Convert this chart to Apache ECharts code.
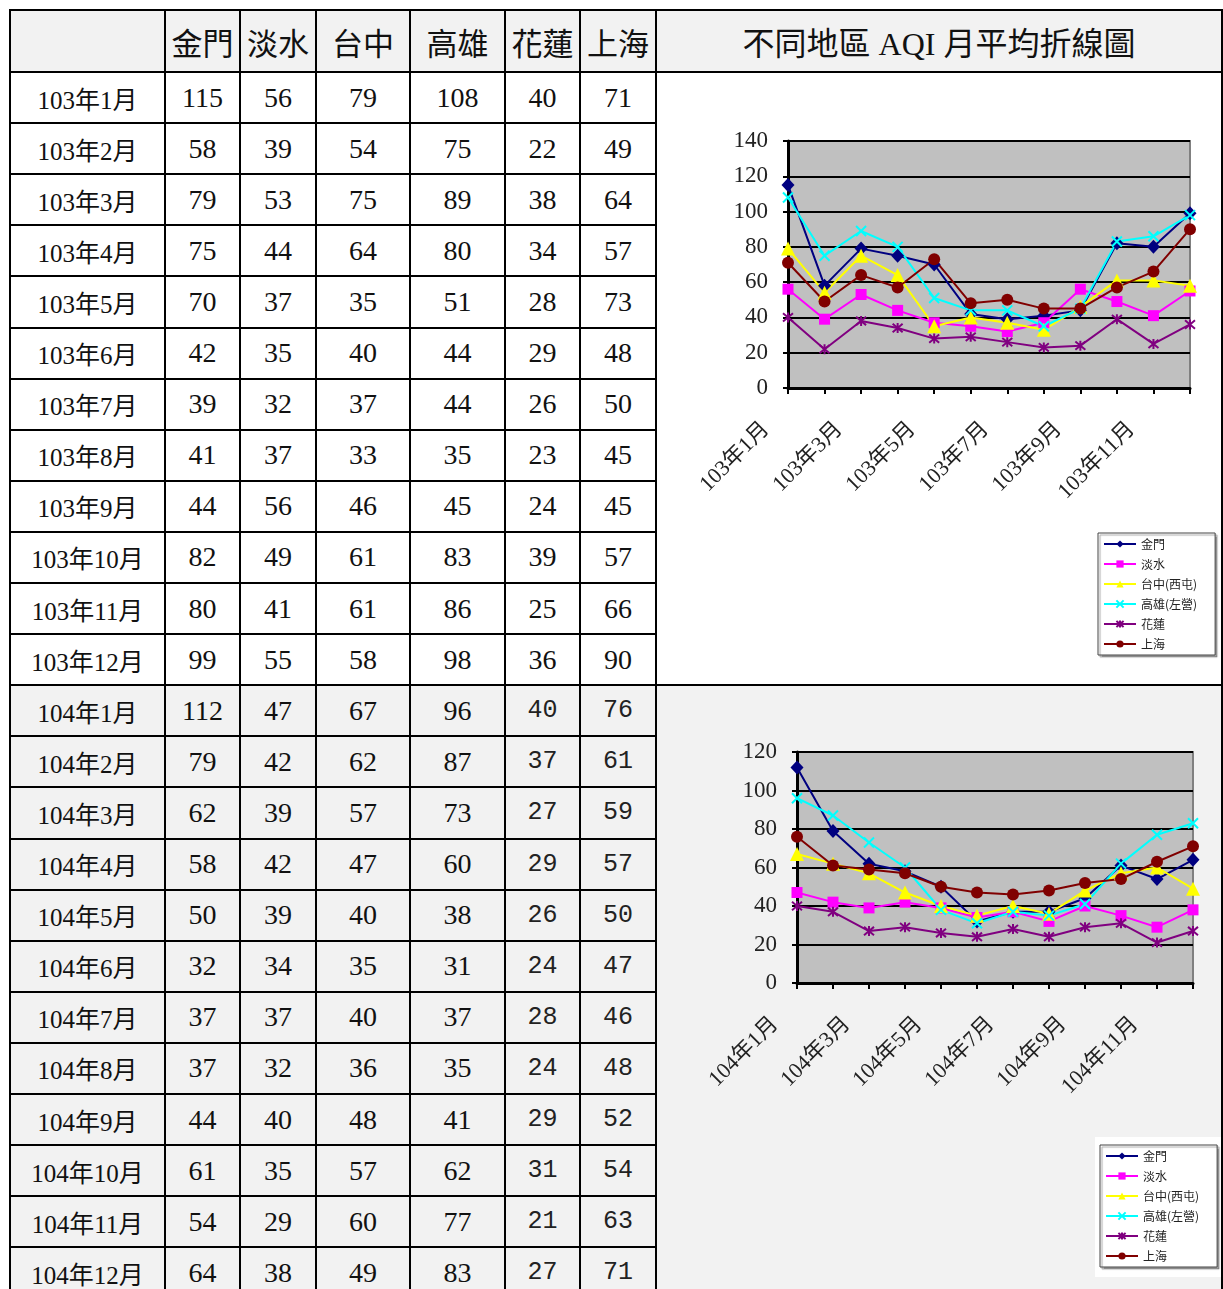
<!DOCTYPE html>
<html>
<head>
<meta charset="utf-8">
<script src="https://cdn.jsdelivr.net/npm/echarts@6/dist/echarts.min.js"></script>
<style>
  html, body { margin: 0; padding: 0; background: #fff; overflow: hidden; }
  #page { position: relative; width: 1223px; height: 1289px; overflow: hidden; }
  .cell { position: absolute; display: flex; align-items: center; justify-content: center;
          color: #111; white-space: nowrap; }
  .hdr { font-family: "Times New Roman", "Liberation Serif", "Noto Sans CJK TC", serif; font-size: 31px; }
  .ttl { font-family: "Times New Roman", "Liberation Serif", "Noto Sans CJK TC", serif; font-size: 32px; }
  .lbl { font-family: "Times New Roman", "Liberation Serif", "Noto Sans CJK TC", serif; font-size: 25px; }
  .num { font-family: "Times New Roman", "Liberation Serif", serif; font-size: 28px; }
  .mono { font-family: "Liberation Mono", monospace; font-size: 25px; color: #222; }
  .line { position: absolute; background: #000; }
  .chart { position: absolute; }
</style>
</head>
<body>
<div id="page"></div>
<script>
// ---- data ----
const cities = ['金門', '淡水', '台中', '高雄', '花蓮', '上海'];
const legendNames = ['金門', '淡水', '台中(西屯)', '高雄(左營)', '花蓮', '上海'];
const chartTitle = '不同地區 AQI 月平均折線圖';

const months103 = ['103年1月', '103年2月', '103年3月', '103年4月', '103年5月', '103年6月',
                   '103年7月', '103年8月', '103年9月', '103年10月', '103年11月', '103年12月'];
const months104 = ['104年1月', '104年2月', '104年3月', '104年4月', '104年5月', '104年6月',
                   '104年7月', '104年8月', '104年9月', '104年10月', '104年11月', '104年12月'];

const kinmen103    = [115, 58, 79, 75, 70, 42, 39, 41, 44, 82, 80, 99];
const tamsui103    = [56, 39, 53, 44, 37, 35, 32, 37, 56, 49, 41, 55];
const taichung103  = [79, 54, 75, 64, 35, 40, 37, 33, 46, 61, 61, 58];
const kaohsiung103 = [108, 75, 89, 80, 51, 44, 44, 35, 45, 83, 86, 98];
const hualien103   = [40, 22, 38, 34, 28, 29, 26, 23, 24, 39, 25, 36];
const shanghai103  = [71, 49, 64, 57, 73, 48, 50, 45, 45, 57, 66, 90];

const kinmen104    = [112, 79, 62, 58, 50, 32, 37, 37, 44, 61, 54, 64];
const tamsui104    = [47, 42, 39, 42, 39, 34, 37, 32, 40, 35, 29, 38];
const taichung104  = [67, 62, 57, 47, 40, 35, 40, 36, 48, 57, 60, 49];
const kaohsiung104 = [96, 87, 73, 60, 38, 31, 37, 35, 41, 62, 77, 83];
const hualien104   = [40, 37, 27, 29, 26, 24, 28, 24, 29, 31, 21, 27];
const shanghai104  = [76, 61, 59, 57, 50, 47, 46, 48, 52, 54, 63, 71];

const yMax103 = 140;
const yMax104 = 120;
const yStep = 20;

// ---- table layout ----
const colEdges = [10, 165, 240, 316, 410, 505, 580, 656, 1222];
const tableTop = 10;
const headerBottom = 72;
const rowH = 51.1;
const rowEdge = i => headerBottom + i * rowH;
const grayBg = '#f2f2f2';

const page = document.getElementById('page');
function box(cls, x0, y0, x1, y1, text, bg) {
  const d = document.createElement('div');
  d.className = cls;
  d.style.left = x0 + 'px';
  d.style.top = y0 + 'px';
  d.style.width = (x1 - x0) + 'px';
  d.style.height = (y1 - y0) + 'px';
  if (bg) d.style.background = bg;
  if (text !== undefined) d.textContent = text;
  page.appendChild(d);
  return d;
}

// backgrounds
box('cell', colEdges[0], tableTop, colEdges[8], headerBottom, undefined, grayBg);
box('cell', colEdges[0], rowEdge(12), colEdges[8], 1300, undefined, grayBg);

// header
for (let c = 0; c < cities.length; c++) {
  box('cell hdr', colEdges[c + 1], tableTop, colEdges[c + 2], headerBottom, cities[c]);
}
box('cell ttl', colEdges[7], tableTop, colEdges[8], headerBottom, chartTitle);

// body rows
const year103 = [kinmen103, tamsui103, taichung103, kaohsiung103, hualien103, shanghai103];
const year104 = [kinmen104, tamsui104, taichung104, kaohsiung104, hualien104, shanghai104];
function fillRows(months, cols, startRow, monoFrom) {
  months.forEach((m, i) => {
    const y0 = rowEdge(startRow + i), y1 = rowEdge(startRow + i + 1);
    box('cell lbl', colEdges[0], y0, colEdges[1], y1, m);
    cols.forEach((arr, c) => {
      const cls = c >= monoFrom ? 'cell mono' : 'cell num';
      box(cls, colEdges[c + 1], y0, colEdges[c + 2], y1, String(arr[i]));
    });
  });
}
fillRows(months103, year103, 0, 99);
fillRows(months104, year104, 12, 4);

// grid lines of the table
const lw = 2;
colEdges.forEach(x => box('line', x - 1, tableTop - 1, x - 1 + lw, 1300));
box('line', colEdges[0] - 1, tableTop - 1, colEdges[8] + 1, tableTop - 1 + lw);
box('line', colEdges[0] - 1, headerBottom - 1, colEdges[8] + 1, headerBottom - 1 + lw);
for (let i = 1; i < 24; i++) {
  const y = rowEdge(i);
  const xr = (i === 12) ? colEdges[8] + 1 : colEdges[7] + 1;
  box('line', colEdges[0] - 1, y - 1, xr, y - 1 + lw);
}

// ---- charts ----
const seriesStyles = [
  { color: '#000080', symbol: 'diamond', size: [13, 14] },
  { color: '#ff00ff', symbol: 'rect', size: 11 },
  { color: '#ffff00', symbol: 'triangle', size: 14 },
  { color: '#00ffff', symbol: 'path://M0,0L10,10M10,0L0,10', size: 10, stroke: true },
  { color: '#800080', symbol: 'path://M0,0L10,10M10,0L0,10M5,-1L5,11', size: 10, stroke: true },
  { color: '#800000', symbol: 'circle', size: 12 }
];
const serif = '"Times New Roman", "Liberation Serif", "Noto Sans CJK TC", serif';

function makeChart(el, cats, data, yMax, g, lg, bgRect) {
  const chart = echarts.init(el, null, { renderer: 'canvas' });
  const series = data.map((arr, i) => {
    const s = seriesStyles[i];
    return {
      name: legendNames[i],
      type: 'line',
      data: arr,
      symbol: s.symbol,
      symbolSize: s.size,
      showAllSymbol: true,
      lineStyle: { color: s.color, width: 2 },
      itemStyle: s.stroke
        ? { color: s.color, borderColor: s.color, borderWidth: 2 }
        : { color: s.color, borderWidth: 0 },
      emphasis: { disabled: true }
    };
  });
  chart.setOption({
    animation: false,
    backgroundColor: 'transparent',
    graphic: bgRect ? [{
      type: 'rect', left: bgRect[0], top: bgRect[1], z: -1,
      shape: { width: bgRect[2], height: bgRect[3] },
      style: { fill: '#fff' }
    }] : [],
    grid: {
      left: g.left, top: g.top, width: g.width, height: g.height,
      show: true, backgroundColor: '#c0c0c0', borderColor: '#808080', borderWidth: 2
    },
    legend: {
      orient: 'vertical',
      left: lg.left, top: lg.top,
      data: legendNames,
      selectedMode: false,
      itemWidth: 32, itemHeight: 9, itemGap: 8,
      padding: [5, 18, 5, 5],
      backgroundColor: '#fff',
      borderColor: '#444', borderWidth: 1,
      shadowColor: 'rgba(0,0,0,0.35)', shadowOffsetX: 2, shadowOffsetY: 2, shadowBlur: 1,
      textStyle: { fontSize: 12, lineHeight: 12, color: '#222',
                   fontFamily: '"Noto Sans CJK TC", sans-serif' }
    },
    xAxis: {
      type: 'category',
      data: cats,
      boundaryGap: false,
      axisLine: { lineStyle: { color: '#000', width: 3 } },
      axisTick: { show: true, interval: 0, length: 6, lineStyle: { color: '#000', width: 2 } },
      axisLabel: {
        interval: 1, rotate: 45, fontSize: 22, margin: 16, padding: [0, 31, 0, 0],
        color: '#222', fontFamily: serif
      },
      splitLine: { show: false }
    },
    yAxis: {
      type: 'value',
      min: 0, max: yMax, interval: yStep,
      axisLine: { show: true, lineStyle: { color: '#000', width: 3 } },
      axisTick: { show: true, length: 5, lineStyle: { color: '#000', width: 2 } },
      axisLabel: { fontSize: 23, margin: 20, color: '#222', fontFamily: serif },
      splitLine: { show: true, lineStyle: { color: '#000', width: 2 } }
    },
    series: series
  });
  return chart;
}

// chart for year 103 (white cell)
const c1 = box('chart', 657, 73, 1221, 684);
makeChart(c1, months103, year103, yMax103,
  { left: 131, top: 68, width: 402, height: 247 },
  { left: 441, top: 460 }, null);

// chart for year 104 (gray cell)
const c2 = box('chart', 657, 687, 1221, 1289);
makeChart(c2, months104, year104, yMax104,
  { left: 140, top: 65, width: 396, height: 231 },
  { left: 443, top: 458 }, [438, 450, 127, 140]);
</script>
</body>
</html>
